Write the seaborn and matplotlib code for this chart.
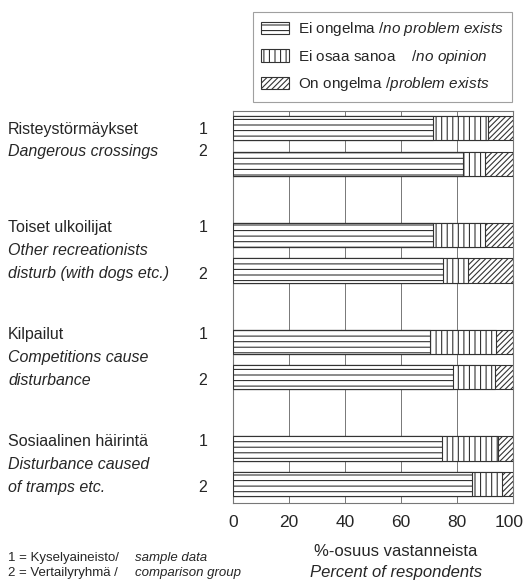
import matplotlib
matplotlib.use("Agg")
import matplotlib.pyplot as plt
import matplotlib.transforms as mtransforms
from matplotlib.patches import Patch
import seaborn as sns
import pandas as pd
import numpy as np

# ---- data ----
positions = [0, 1, 3, 4, 6, 7, 9, 10]
no_problem = [71.5, 82, 71.5, 75, 70.5, 78.5, 74.5, 85.5]
no_opinion = [19.5, 8, 18.5, 9, 23.5, 15, 20, 10.5]
problem = [9, 10, 10, 16, 6, 6.5, 5.5, 4]
x_ticks = [0, 20, 40, 60, 80, 100]

group_fi = ["Risteystörmäykset", "Toiset ulkoilijat", "Kilpailut", "Sosiaalinen häirintä"]
group_en = [["Dangerous crossings"],
            ["Other recreationists", "disturb (with dogs etc.)"],
            ["Competitions cause", "disturbance"],
            ["Disturbance caused", "of tramps etc."]]

legend_fi = ["Ei ongelma /", "Ei osaa sanoa    /", "On ongelma /"]
legend_en = ["no problem exists", "no opinion", "problem exists"]

sns.set_theme(style="white")
plt.rcParams['font.family'] = ['Liberation Sans', 'DejaVu Sans']
plt.rcParams['mathtext.fontset'] = 'custom'
plt.rcParams['mathtext.rm'] = 'Liberation Sans'
plt.rcParams['mathtext.it'] = 'Liberation Sans:italic'
plt.rcParams['hatch.linewidth'] = 0.8
plt.rcParams['hatch.color'] = '#333333'

fig = plt.figure(figsize=(5.25, 5.84), dpi=100)
ax = fig.add_axes([233/525, 1-502.7/584, 280/525, (502.7-111)/584])

df = pd.DataFrame({
    "pos": positions,
    "c1": np.array(no_problem),
    "c2": np.array(no_problem) + np.array(no_opinion),
    "c3": np.array(no_problem) + np.array(no_opinion) + np.array(problem),
})

edge = '#333333'
layers = [("c3", '//////'), ("c2", '|||'), ("c1", '---')]
for col, hatch in layers:
    n_before = len(ax.patches)
    sns.barplot(data=df, x=col, y="pos", orient="h", native_scale=True,
                color="white", edgecolor=edge, linewidth=0.8, width=0.68,
                ax=ax, zorder=3)
    for p in ax.patches[n_before:]:
        p.set_hatch(hatch)
        p.set_facecolor('white')
        p.set_edgecolor(edge)

ax.set_xlim(0, 100)
ax.set_ylim(10.52, -0.48)
ax.set_xticks(x_ticks)
ax.set_xticklabels([str(t) for t in x_ticks], fontsize=12.5)
ax.tick_params(axis='x', length=0, pad=9)
# keep the last tick label inside the canvas
last = ax.get_xticklabels()[-1]
last.set_transform(last.get_transform() + mtransforms.ScaledTranslation(-4/100, 0, fig.dpi_scale_trans))
ax.set_yticks([])
ax.set_xlabel("")
ax.set_ylabel("")
for v in x_ticks[1:-1]:
    ax.axvline(v, color='#777777', lw=0.7, zorder=1)
for s in ax.spines.values():
    s.set_color('#777777')
    s.set_linewidth(0.8)

# left labels
tr = mtransforms.blended_transform_factory(fig.transFigure, ax.transData)
x_lab = 8/525
x_num = 203/525
fs = 11.5
# group 1
ax.text(x_lab, 0.03, group_fi[0], transform=tr, fontsize=fs, va='center', ha='left')
ax.text(x_lab, 0.67, group_en[0][0], transform=tr, fontsize=fs, va='center', ha='left', style='italic')
ax.text(x_num, 0.03, "1", transform=tr, fontsize=fs, va='center', ha='center')
ax.text(x_num, 0.67, "2", transform=tr, fontsize=fs, va='center', ha='center')
for g in range(1, 4):
    base = positions[2*g]
    ax.text(x_lab, base - 0.2, group_fi[g], transform=tr, fontsize=fs, va='center', ha='left')
    for k, line in enumerate(group_en[g]):
        ax.text(x_lab, base + 0.45 + 0.645*k, line, transform=tr, fontsize=fs,
                va='center', ha='left', style='italic')
    ax.text(x_num, base - 0.2, "1", transform=tr, fontsize=fs, va='center', ha='center')
    ax.text(x_num, base + 1.1, "2", transform=tr, fontsize=fs, va='center', ha='center')

# x label
fig.text(396/525, 1-551/584, "%-osuus vastanneista", fontsize=12, ha='center', va='center')
fig.text(396/525, 1-572/584, "Percent of respondents", fontsize=12, ha='center', va='center', style='italic')

# footnotes
fig.text(8/525, 1-558/584, "1 = Kyselyaineisto/", fontsize=9.5, ha='left', va='center')
fig.text(135/525, 1-558/584, "sample data", fontsize=9.5, ha='left', va='center', style='italic')
fig.text(8/525, 1-573/584, "2 = Vertailyryhmä /", fontsize=9.5, ha='left', va='center')
fig.text(135/525, 1-573/584, "comparison group", fontsize=9.5, ha='left', va='center', style='italic')

# legend
def it(s):
    return r"$\mathit{" + s.replace(" ", r"\ ") + "}$"

handles = [Patch(facecolor='white', edgecolor=edge, hatch=h, linewidth=0.8)
           for h in ['---', '|||', '//////']]
labels = [fi + it(en) for fi, en in zip(legend_fi, legend_en)]
leg = fig.legend(handles, labels, loc='upper right', bbox_to_anchor=(512/525, 1-12/584),
                 fontsize=11, frameon=True, fancybox=False, edgecolor='#888888',
                 handlelength=1.85, handleheight=0.85, labelspacing=0.62,
                 borderpad=0.55, handletextpad=0.55, borderaxespad=0)
leg.get_frame().set_linewidth(0.8)

fig.savefig("out.png", dpi=100)
